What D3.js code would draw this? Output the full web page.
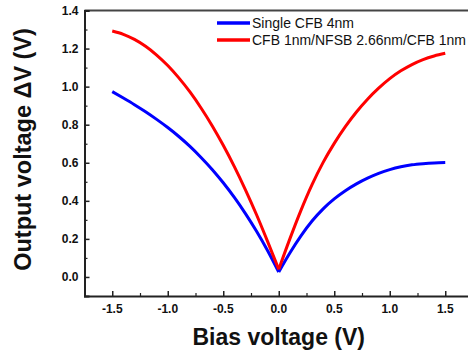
<!DOCTYPE html>
<html>
<head>
<meta charset="utf-8">
<script src="https://cdn.jsdelivr.net/npm/d3@7"></script>
<style>
  body { margin: 0; background: #fff; }
  svg { display: block; font-family: "Liberation Sans", Arial, sans-serif; }
</style>
</head>
<body>
<svg id="chart" width="468" height="356"></svg>
<script>
// bias voltage (V)
const biasValues = [-1.5, -1.4, -1.3, -1.2, -1.1, -1.0, -0.9, -0.8, -0.7, -0.6, -0.5, -0.4, -0.3, -0.2, -0.1,
    0.0, 0.1, 0.2, 0.3, 0.4, 0.5, 0.6, 0.7, 0.8, 0.9, 1.0, 1.1, 1.2, 1.3, 1.4, 1.5];

// output voltage for single CFB 4nm
const singleValues = [0.974, 0.94, 0.905, 0.868, 0.828, 0.785, 0.738, 0.686, 0.628, 0.565, 0.495, 0.418, 0.333, 0.24, 0.138,
    0.026, 0.126, 0.216, 0.294, 0.358, 0.41, 0.453, 0.489, 0.519, 0.544, 0.564, 0.579, 0.589, 0.595, 0.599, 0.601];

// output voltage for CFB 1nm/NFSB 2.66nm/CFB 1nm
const trilayerValues = [1.292, 1.275, 1.248, 1.212, 1.166, 1.111, 1.046, 0.972, 0.888, 0.795, 0.692, 0.58, 0.458, 0.327, 0.186,
    0.04, 0.2, 0.35, 0.485, 0.602, 0.702, 0.79, 0.867, 0.934, 0.992, 1.042, 1.083, 1.116, 1.142, 1.161, 1.175];

const seriesNames = ["Single CFB 4nm", "CFB 1nm/NFSB 2.66nm/CFB 1nm"];
const seriesColors = ["#0000ff", "#ff0000"];

const xTicks = [-1.5, -1.0, -0.5, 0.0, 0.5, 1.0, 1.5];
const yTicks = [0.0, 0.2, 0.4, 0.6, 0.8, 1.0, 1.2, 1.4];

const svg = d3.select("#chart");

const x = d3.scaleLinear().domain([-1.75, 1.75]).range([84.5, 473]);
const y = d3.scaleLinear().domain([-0.1, 1.4]).range([296, 10.5]);

const axisColor = "#222";

// frame (top line, right side goes off the picture)
svg.append("line")
    .attr("x1", x(-1.75)).attr("x2", 470)
    .attr("y1", y(1.4)).attr("y2", y(1.4))
    .attr("stroke", "#444").attr("stroke-width", 2);

// x axis, ticks pointing inward
const xAxis = svg.append("g")
    .attr("transform", `translate(0,${y(-0.1)})`)
    .call(d3.axisTop(x).tickValues(xTicks).tickSize(5).tickFormat(""));
xAxis.select(".domain").attr("stroke", axisColor).attr("stroke-width", 2);
xAxis.selectAll(".tick line").attr("stroke", axisColor).attr("stroke-width", 1.5);

svg.append("g")
    .attr("transform", `translate(0,${y(-0.1)})`)
    .call(d3.axisTop(x).tickValues(d3.range(-1.25, 1.5, 0.5)).tickSize(3).tickFormat(""))
    .call(g => g.select(".domain").remove())
    .selectAll(".tick line").attr("stroke", axisColor).attr("stroke-width", 1.2);

svg.append("g").selectAll("text")
    .data(xTicks)
    .enter()
    .append("text")
    .attr("x", d => x(d))
    .attr("y", y(-0.1) + 17)
    .attr("text-anchor", "middle")
    .attr("font-size", "12px")
    .attr("font-weight", "bold")
    .attr("fill", "#111")
    .text(d => d.toFixed(1));

// y axis, ticks pointing inward
const yAxis = svg.append("g")
    .attr("transform", `translate(${x(-1.75)},0)`)
    .call(d3.axisRight(y).tickValues(yTicks).tickSize(5).tickFormat(""));
yAxis.select(".domain").attr("stroke", axisColor).attr("stroke-width", 2);
yAxis.selectAll(".tick line").attr("stroke", axisColor).attr("stroke-width", 1.5);

svg.append("g")
    .attr("transform", `translate(${x(-1.75)},0)`)
    .call(d3.axisRight(y).tickValues(d3.range(-0.1, 1.4, 0.2)).tickSize(3).tickFormat(""))
    .call(g => g.select(".domain").remove())
    .selectAll(".tick line").attr("stroke", axisColor).attr("stroke-width", 1.2);

svg.append("g").selectAll("text")
    .data(yTicks)
    .enter()
    .append("text")
    .attr("x", x(-1.75) - 6)
    .attr("y", d => y(d) + 4)
    .attr("text-anchor", "end")
    .attr("font-size", "12px")
    .attr("font-weight", "bold")
    .attr("fill", "#111")
    .text(d => d.toFixed(1));

// axis titles
svg.append("text")
    .attr("x", x(0))
    .attr("y", 345)
    .attr("text-anchor", "middle")
    .attr("font-size", "23px")
    .attr("font-weight", "bold")
    .attr("fill", "#111")
    .text("Bias voltage (V)");

svg.append("text")
    .attr("transform", `translate(31,${y(0.67)}) rotate(-90)`)
    .attr("text-anchor", "middle")
    .attr("font-size", "23.5px")
    .attr("font-weight", "bold")
    .attr("fill", "#111")
    .text("Output voltage \u0394V (V)");

// curves: each branch drawn separately so the dip at 0 V stays sharp
const line = d3.line()
    .x(d => x(d[0]))
    .y(d => y(d[1]))
    .curve(d3.curveMonotoneX);

const series = [singleValues, trilayerValues];
series.forEach((vals, i) => {
    const pts = biasValues.map((b, j) => [b, vals[j]]);
    const branches = [pts.filter(p => p[0] <= 0), pts.filter(p => p[0] >= 0)];
    branches.forEach(br => {
        svg.append("path")
            .datum(br)
            .attr("fill", "none")
            .attr("stroke", seriesColors[i])
            .attr("stroke-width", 3)
            .attr("stroke-linejoin", "round")
            .attr("d", line);
    });
});

// legend
const legend = svg.append("g").attr("transform", "translate(217,23)");
seriesNames.forEach((name, i) => {
    legend.append("line")
        .attr("x1", 0).attr("x2", 33)
        .attr("y1", i * 17).attr("y2", i * 17)
        .attr("stroke", seriesColors[i])
        .attr("stroke-width", 3.5);
    legend.append("text")
        .attr("x", 35)
        .attr("y", i * 17 + 5)
        .attr("font-size", "14px")
        .attr("fill", "#111")
        .text(name);
});
</script>
</body>
</html>
